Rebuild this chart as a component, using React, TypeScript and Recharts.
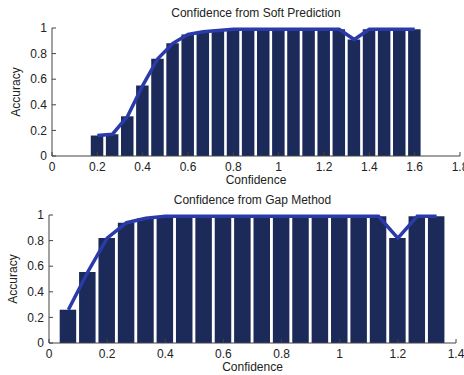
import {ComposedChart, Bar, Line, XAxis, YAxis} from "recharts";

// bin centres are k/15
const softBins = [3, 4, 5, 6, 7, 8, 9, 10, 11, 12, 13, 14, 15, 16, 17, 18, 19, 20, 21, 22, 23, 24];
const softAcc = [0.16, 0.17, 0.31, 0.55, 0.76, 0.88, 0.95, 0.97, 0.98, 0.99, 0.99, 0.99, 0.99, 0.99, 0.99, 0.99, 0.99, 0.91, 0.99, 0.99, 0.99, 0.99];

const gapBins = [1, 2, 3, 4, 5, 6, 7, 8, 9, 10, 11, 12, 13, 14, 15, 16, 17, 18, 19, 20];
const gapAcc = [0.26, 0.555, 0.82, 0.94, 0.975, 0.99, 0.99, 0.99, 0.99, 0.99, 0.99, 0.99, 0.99, 0.99, 0.99, 0.99, 0.99, 0.82, 0.99, 0.99];

const softTicks = [0, 0.2, 0.4, 0.6, 0.8, 1, 1.2, 1.4, 1.6, 1.8];
const gapTicks = [0, 0.2, 0.4, 0.6, 0.8, 1, 1.2, 1.4];
const yTicks = [0, 0.2, 0.4, 0.6, 0.8, 1];

const BAR = "#1b2a58";
const LINE = "#2a3aa8";
const FONT = "'Liberation Sans', Arial, sans-serif";

const toRows = (bins: number[], acc: number[]) => bins.map((k, i) => ({x: k / 15, acc: acc[i]}));

const Panel = ({title, data, ticks, xMax, left, right, barSize} : any) => {
  const tickStyle = {fontSize: 12, fill: "#222", fontFamily: FONT};
  return (<div style={{position: "relative", width: 464, height: 187}}>
    <div style={{position: "absolute", top: 6, left: left, width: 464 - left - right, textAlign: "center", fontSize: 12, fontFamily: FONT, color: "#222"}}>
      {title}
    </div>
    <ComposedChart width={464} height={187} data={data} margin={{top: 28, right: right, left: left - 40, bottom: 0}}
      style={{overflow: "visible"}}>
      <XAxis dataKey="x" type="number" domain={[0, xMax]} ticks={ticks} interval={0}
        tick={tickStyle} tickSize={-4} tickMargin={10} stroke="#444" height={31}
        tickFormatter={(v : number) => String(v)}
        label={{value: "Confidence", position: "insideBottom", offset: 3, style: tickStyle}}/>
      <XAxis xAxisId="top" orientation="top" type="number" domain={[0, xMax]} ticks={ticks} interval={0}
        tick={false} tickSize={-4} stroke="#444" height={0}/>
      <YAxis type="number" domain={[0, 1]} ticks={yTicks} interval={0} width={40}
        tick={tickStyle} tickSize={-4} tickMargin={9} stroke="#444"
        label={{value: "Accuracy", angle: -90, position: "insideLeft", offset: 4, style: {...tickStyle, textAnchor: "middle"}}}/>
      <YAxis yAxisId="right" orientation="right" type="number" domain={[0, 1]} ticks={yTicks} interval={0}
        tick={false} tickSize={-4} stroke="#444" width={0}/>
      <Bar dataKey="acc" fill={BAR} barSize={barSize} isAnimationActive={false}/>
      <Line dataKey="acc" type="linear" stroke={LINE} strokeWidth={3.5} dot={false} isAnimationActive={false}/>
    </ComposedChart>
  </div>);
};

const App = () => {
  return (<div style={{position: "absolute", left: 0, top: 0, width: 464, height: 375, background: "#fff", overflow: "hidden"}}>
    <Panel title="Confidence from Soft Prediction" data={toRows(softBins, softAcc)} ticks={softTicks}
      xMax={1.8} left={52} right={4} barSize={12.5}/>
    <Panel title="Confidence from Gap Method" data={toRows(gapBins, gapAcc)} ticks={gapTicks}
      xMax={1.4} left={49} right={8} barSize={16.5}/>
  </div>);
};

export default App;
